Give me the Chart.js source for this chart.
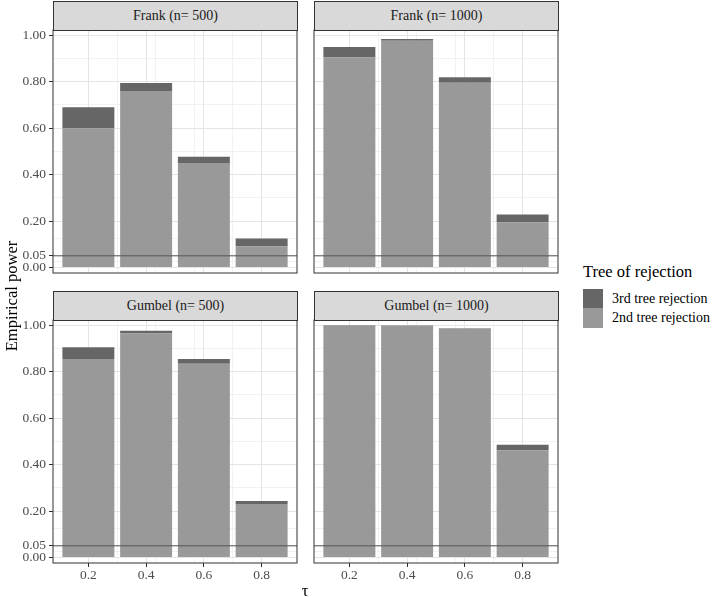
<!DOCTYPE html>
<html lang="en">

<head>
  <meta charset="UTF-8" />
  <meta name="viewport" content="width=device-width, initial-scale=1.0" />
  <title>Empirical power</title>
  <style>
    body { margin: 0; background: #fff; font-family: "Liberation Serif", "DejaVu Serif", serif; }
    #wrap { position: relative; width: 714px; height: 597px; overflow: hidden; }
    #wrap canvas, .strip, .txt, .key { position: absolute; }
    .strip {
      background: #d9d9d9; border: 1px solid #333; box-sizing: border-box;
      width: 245px; height: 30px; line-height: 28px;
      font-size: 14px; color: #1a1a1a; text-align: center;
    }
    .txt { white-space: nowrap; color: #000; }
  </style>
</head>

<body>
  <div id="wrap">
    <canvas id="p1" width="305" height="258" style="left:0px; top:22px;"></canvas>
    <canvas id="p2" width="260" height="258" style="left:306px; top:22px;"></canvas>
    <canvas id="p3" width="305" height="285" style="left:0px; top:312px;"></canvas>
    <canvas id="p4" width="260" height="285" style="left:306px; top:312px;"></canvas>

    <div class="strip" id="s1" style="left:53px; top:1px;"></div>
    <div class="strip" id="s2" style="left:314px; top:1px;"></div>
    <div class="strip" id="s3" style="left:53px; top:291px;"></div>
    <div class="strip" id="s4" style="left:314px; top:291px;"></div>

    <!-- axis titles -->
    <div class="txt" style="left:-88px; top:286px; width:200px; height:20px; line-height:20px; text-align:center; font-size:16.5px; transform:rotate(-90deg);">Empirical power</div>
    <div class="txt" style="left:285px; top:581px; width:40px; line-height:20px; text-align:center; font-size:16.5px;">τ</div>

    <!-- legend -->
    <div class="txt" style="left:583px; top:262px; line-height:20px; font-size:16.5px;">Tree of rejection</div>
    <div class="key" style="left:583px; top:289px; width:20px; height:19px; background:#666666;"></div>
    <div class="key" style="left:583px; top:308px; width:20px; height:20px; background:#999999;"></div>
    <div class="txt" id="l1" style="left:612px; top:290px; line-height:18px; font-size:14px;"></div>
    <div class="txt" id="l2" style="left:612px; top:309px; line-height:18px; font-size:14px;"></div>
  </div>

  <script src="https://cdn.jsdelivr.net/npm/chart.js"></script>

  <script type="text/javascript">
    // values
    const tau = [0.2, 0.4, 0.6, 0.8];
    const panelTitles = ['Frank (n= 500)', 'Frank (n= 1000)', 'Gumbel (n= 500)', 'Gumbel (n= 1000)'];
    const seriesNames = ['3rd tree rejection', '2nd tree rejection'];

    const frank500_2nd = [0.600, 0.760, 0.450, 0.090];
    const frank500_3rd = [0.090, 0.035, 0.027, 0.035];
    const frank1000_2nd = [0.905, 0.977, 0.796, 0.195];
    const frank1000_3rd = [0.045, 0.007, 0.023, 0.033];
    const gumbel500_2nd = [0.855, 0.965, 0.835, 0.230];
    const gumbel500_3rd = [0.051, 0.012, 0.020, 0.013];
    const gumbel1000_2nd = [0.998, 0.999, 0.985, 0.462];
    const gumbel1000_3rd = [0.002, 0.001, 0.002, 0.023];

    const yTicks = [0, 0.05, 0.2, 0.4, 0.6, 0.8, 1.0];
    const yMinor = [0.025, 0.125, 0.3, 0.5, 0.7, 0.9];
    const xMinor = [0.3, 0.5, 0.7];
    const refLevel = 0.05;

    Chart.defaults.font.family = '"Liberation Serif", "DejaVu Serif", serif';

    document.getElementById('l1').textContent = seriesNames[0];
    document.getElementById('l2').textContent = seriesNames[1];
    panelTitles.forEach((t, i) => { document.getElementById('s' + (i + 1)).textContent = t; });

    // border round the panel and the 0.05 line on top of the bars
    const panelDecor = {
      id: 'panelDecor',
      afterDatasetsDraw(chart) {
        const c = chart.ctx, a = chart.chartArea;
        const y = chart.scales.y.getPixelForValue(refLevel);
        c.save();
        c.strokeStyle = '#555555';
        c.lineWidth = 1;
        c.beginPath();
        c.moveTo(a.left, y);
        c.lineTo(a.right, y);
        c.stroke();
        c.strokeStyle = '#333333';
        c.strokeRect(a.left, a.top, a.right - a.left, a.bottom - a.top);
        c.restore();
      }
    };

    function noPad(s) {
      s.paddingTop = 0; s.paddingBottom = 0; s.paddingLeft = 0; s.paddingRight = 0;
    }

    function makePanel(id, second, third, showY, showX) {
      const ctx = document.getElementById(id).getContext('2d');
      const pad = {
        left: showY ? 0 : 8,
        right: 8,
        top: 8,
        bottom: showX ? 14 : 7
      };
      return new Chart(ctx, {
        type: 'bar',
        data: {
          datasets: [
            {
              label: seriesNames[1],
              data: tau.map((t, i) => ({ x: t, y: second[i] })),
              backgroundColor: '#999999',
              categoryPercentage: 1,
              barPercentage: 0.9
            },
            {
              label: seriesNames[0],
              data: tau.map((t, i) => ({ x: t, y: third[i] })),
              backgroundColor: '#666666',
              categoryPercentage: 1,
              barPercentage: 0.9
            }
          ]
        },
        options: {
          responsive: false,
          animation: false,
          layout: { padding: pad },
          plugins: {
            legend: { display: false },
            tooltip: { enabled: false }
          },
          scales: {
            x: {
              type: 'linear',
              stacked: true,
              offset: false,
              min: 0.0775,
              max: 0.9225,
              afterBuildTicks: (s) => { s.ticks = tau.map(v => ({ value: v })); },
              afterFit: (s) => { s.height = showX ? 20 : 0; noPad(s); },
              ticks: {
                display: showX,
                autoSkip: false,
                maxRotation: 0,
                padding: 0,
                color: '#4d4d4d',
                font: { size: 13.5 },
                callback: (v) => v.toFixed(1)
              },
              grid: {
                offset: false,
                color: '#e4e4e4',
                lineWidth: 1,
                drawTicks: showX,
                tickLength: 4,
                tickColor: '#333333'
              },
              border: { display: false }
            },
            xm: {
              type: 'linear',
              position: 'bottom',
              min: 0.0775,
              max: 0.9225,
              afterBuildTicks: (s) => { s.ticks = xMinor.map(v => ({ value: v })); },
              afterFit: (s) => { s.height = 0; noPad(s); },
              ticks: { display: false },
              grid: { color: '#ececec', lineWidth: 0.7, drawTicks: false },
              border: { display: false }
            },
            y: {
              type: 'linear',
              stacked: true,
              min: -0.024,
              max: 1.023,
              afterBuildTicks: (s) => { s.ticks = yTicks.map(v => ({ value: v })); },
              afterFit: (s) => { s.width = showY ? 53 : 0; noPad(s); },
              ticks: {
                display: showY,
                autoSkip: false,
                padding: 3,
                color: '#4d4d4d',
                font: { size: 13.5 },
                callback: (v) => v.toFixed(2)
              },
              grid: {
                color: '#e4e4e4',
                lineWidth: 1,
                drawTicks: showY,
                tickLength: 4,
                tickColor: '#333333'
              },
              border: { display: false }
            },
            ym: {
              type: 'linear',
              position: 'left',
              min: -0.024,
              max: 1.023,
              afterBuildTicks: (s) => { s.ticks = yMinor.map(v => ({ value: v })); },
              afterFit: (s) => { s.width = 0; noPad(s); },
              ticks: { display: false },
              grid: { color: '#ececec', lineWidth: 0.7, drawTicks: false },
              border: { display: false }
            }
          }
        },
        plugins: [panelDecor]
      });
    }

    makePanel('p1', frank500_2nd, frank500_3rd, true, false);
    makePanel('p2', frank1000_2nd, frank1000_3rd, false, false);
    makePanel('p3', gumbel500_2nd, gumbel500_3rd, true, true);
    makePanel('p4', gumbel1000_2nd, gumbel1000_3rd, false, true);
  </script>

</body>
</html>
